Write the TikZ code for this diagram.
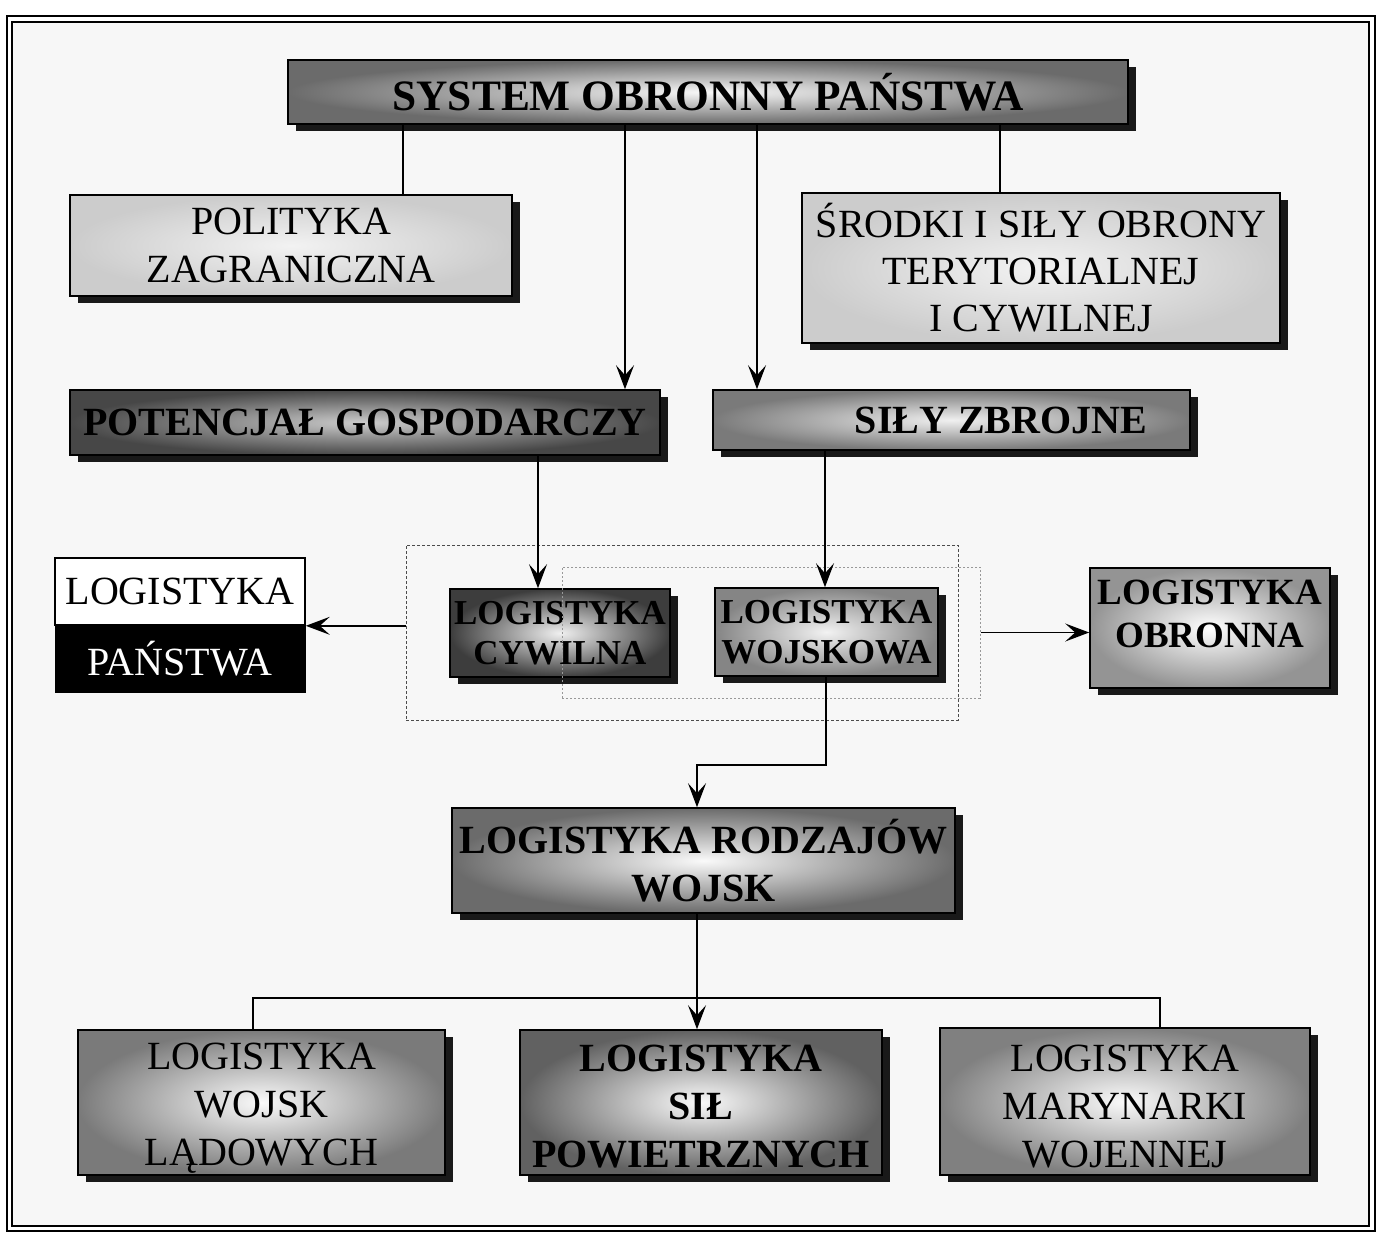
\documentclass[tikz,border=0pt]{standalone}
\usepackage{fontspec}
\setmainfont{Liberation Serif}
\usetikzlibrary{arrows.meta,shadows}
\tikzset{
  wh/.style 2 args={minimum width=#1*0.5pt, minimum height=#2*0.5pt},
  panel/.style={draw=black, line width=0.8pt, inner sep=0pt, align=center,
    drop shadow={shadow xshift=4pt, shadow yshift=-3.5pt, opacity=1, fill=black!90}},
  glow/.style 2 args={outer color=#1, inner color=#2},
  big/.style={font=\fontsize{20}{24}\selectfont},
  bigb/.style={font=\fontsize{20}{24}\selectfont\bfseries},
  small/.style={font=\fontsize{17.5}{20}\selectfont\bfseries},
  link/.style={line width=0.7pt, black},
  arr/.style={link, -{Stealth[length=12pt,width=9pt,inset=5pt]}},
  grp/.style={inner sep=0pt, line width=0.5pt},
}
\begin{document}
\begin{tikzpicture}[x=0.5pt,y=-0.5pt]
\useasboundingbox (0,0) rectangle (1378,1233);
\fill[white] (0,0) rectangle (1378,1233);
\fill[black!3] (12,22) rectangle (1369,1226);
\draw[line width=1pt] (7,16) rectangle (1375,1231);
\draw[line width=0.8pt] (12,22) rectangle (1369,1226);

% upper level
\node[panel, wh={840}{64}, glow={black!58}{black!3},
  font=\fontsize{21.7}{26}\selectfont\bfseries] (sys) at (708,92) {SYSTEM OBRONNY PAŃSTWA};
\node[panel, wh={442}{101}, glow={black!20}{black!5}, big] (pol) at (291,245.5) {POLITYKA\\ZAGRANICZNA};
\node[panel, wh={478}{150}, glow={black!20}{black!5}, font=\fontsize{20}{23.5}\selectfont] (srod) at (1041,268)
  {ŚRODKI I SIŁY OBRONY\\TERYTORIALNEJ\\I CYWILNEJ};
\node[panel, wh={590}{65}, glow={black!72}{black!20}, bigb] (pot) at (365,422.5) {POTENCJAŁ GOSPODARCZY};
\node[panel, wh={477}{60}, glow={black!52}{black!6},
  label={[bigb, xshift=24.75pt]center:SIŁY ZBROJNE}] (sily) at (951.5,420) {};

% logistics core
\node[grp, draw=black!70, dash pattern=on 1.5pt off 1pt, wh={552}{175}] (grpA) at (682,632.5) {};
\node[panel, wh={220}{88}, glow={black!76}{black!6}, small] (cyw) at (560,633) {LOGISTYKA\\CYWILNA};
\node[panel, wh={223}{88}, glow={black!48}{black!5}, small] (woj) at (826.5,632) {LOGISTYKA\\WOJSKOWA};
\node[grp, draw=black!40, dash pattern=on 1pt off 1pt, wh={418}{131}] (grpB) at (771,632.5) {};

\node[draw=black, line width=0.8pt, fill=white, wh={250}{67}, big, inner sep=0pt] (lpA) at (180,591.5) {LOGISTYKA};
\node[draw=black, fill=black, text=white, wh={250}{67}, big, inner sep=0pt] (lpB) at (180,658.5) {PAŃSTWA};

\node[panel, wh={240}{120}, glow={black!42}{white},
  label={[align=center, font=\fontsize{18.5}{21.5}\selectfont\bfseries, yshift=7pt]center:{LOGISTYKA\\OBRONNA}}] (obr) at (1210,628) {};

% lower level
\node[panel, wh={503}{105}, glow={black!58}{black!2}, bigb] (rod) at (703.5,860.5) {LOGISTYKA RODZAJÓW\\WOJSK};
\node[panel, wh={367}{145}, glow={black!52}{black!2},
  label={[align=center, big, yshift=-3pt]center:{LOGISTYKA\\WOJSK\\LĄDOWYCH}}] (lad) at (261.5,1102.5) {};
\node[panel, wh={362}{145}, glow={black!62}{black!2},
  label={[align=center, bigb, yshift=-2pt]center:{LOGISTYKA\\SIŁ\\POWIETRZNYCH}}] (pow) at (701,1102.5) {};
\node[panel, wh={370}{147}, glow={black!50}{black!2},
  label={[align=center, big, yshift=-2.5pt]center:{LOGISTYKA\\MARYNARKI\\WOJENNEJ}}] (mar) at (1125,1101.5) {};

% connectors
\draw[link] (sys.south -| 403,0) -- (pol.north -| 403,0);
\draw[arr] (sys.south -| 625,0) -- (pot.north -| 625,0);
\draw[arr] (sys.south -| 757,0) -- (sily.north -| 757,0);
\draw[link] (sys.south -| 1000,0) -- (srod.north -| 1000,0);
\draw[arr] (pot.south -| 538,0) -- (cyw.north -| 538,0);
\draw[arr] (sily.south -| 825,0) -- (woj.north -| 825,0);
\draw[arr] (grpA.west |- lpA.south east) -- (lpA.south east);
\draw[arr] (grpB.east) -- (obr.west |- grpB.east);
\draw[arr] (woj.south -| 826,0) -- (826,765) -| (rod.north -| 697,0);
\draw[arr] (rod.south -| 697,0) -- (pow.north -| 697,0);
\draw[link] (lad.north -| 253,0) -- (253,998) -- (1160,998) -- (mar.north -| 1160,0);
\end{tikzpicture}
\end{document}
